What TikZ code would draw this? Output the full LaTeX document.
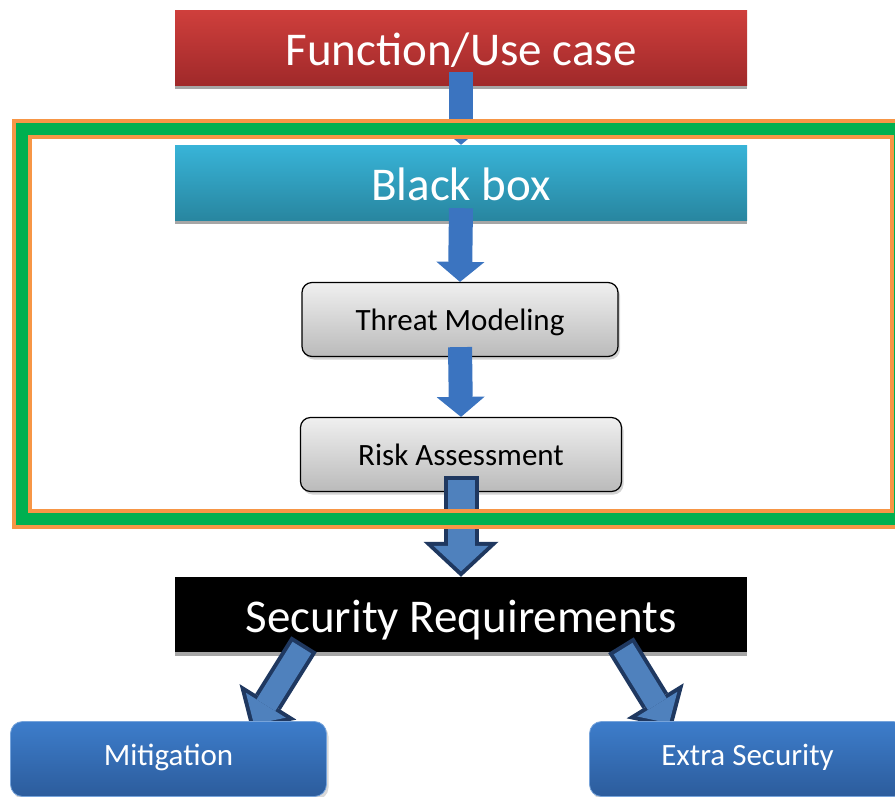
\documentclass[tikz,border=0pt]{standalone}
\usepackage{fontspec}
\setmainfont{Carlito}
\usetikzlibrary{arrows.meta, shadows}

\definecolor{ucred}{RGB}{207,63,60}
\definecolor{ucreddark}{RGB}{160,41,42}
\definecolor{bbcyan}{RGB}{56,180,216}
\definecolor{bbcyandark}{RGB}{40,134,160}
\definecolor{stepblue}{RGB}{61,125,203}
\definecolor{stepbluedark}{RGB}{44,92,156}
\definecolor{flowblue}{RGB}{59,116,192}
\definecolor{fatblue}{RGB}{79,129,189}
\definecolor{fatnavy}{RGB}{31,56,96}
\definecolor{frameorange}{RGB}{247,150,70}
\definecolor{framegreen}{RGB}{0,176,80}

\newcommand{\bannerfont}{\fontsize{47}{50}\selectfont}
\newcommand{\boxfont}{\fontsize{31}{34}\selectfont}

\tikzstyle{banner} = [rectangle, minimum width=572pt, minimum height=75pt, inner sep=2pt, text height=35pt, text depth=0pt, text=white, font=\bannerfont, drop shadow={shadow xshift=0pt, shadow yshift=-4pt, fill=black!35, opacity=1}]
\tikzstyle{greybox} = [rectangle, draw=black, line width=1.2pt, rounded corners=10pt, top color=black!6, bottom color=black!27, minimum width=316pt, minimum height=74pt, inner sep=2pt, text height=21pt, text depth=0pt, font=\boxfont, drop shadow={shadow xshift=2pt, shadow yshift=-3pt, opacity=.35}]
\tikzstyle{bluebox} = [rectangle, draw=stepblue!70!white, line width=0.8pt, rounded corners=12pt, top color=stepblue, bottom color=stepbluedark, text=white, minimum width=316pt, minimum height=75pt, inner sep=2pt, text height=12pt, text depth=0pt, font=\boxfont, drop shadow={shadow xshift=2pt, shadow yshift=-3pt, opacity=.3}]
\tikzstyle{bbframe} = [rectangle, draw=frameorange, line width=4pt, double=framegreen, double distance=12pt, minimum width=878pt, minimum height=390pt]
\tikzstyle{flow} = [line width=24pt, draw=flowblue, -{Triangle[width=48pt, length=20pt, line width=0pt]}]
\tikzstyle{fatout} = [line width=35pt, draw=fatnavy, -{Triangle[width=75pt, length=35pt, line width=0pt]}]
\tikzstyle{fatin} = [line width=27pt, draw=fatblue, -{Triangle[width=55pt, length=25.5pt, line width=0pt]}, shorten >=5.5pt, shorten <=4pt]
\tikzstyle{slantout} = [line width=30pt, draw=fatnavy, -{Triangle[width=67pt, length=32pt, line width=0pt]}]
\tikzstyle{slantin} = [line width=22pt, draw=fatblue, -{Triangle[width=47pt, length=22.4pt, line width=0pt]}, shorten >=5.6pt, shorten <=4pt]

\begin{document}
\begin{tikzpicture}[x=1pt, y=-1pt]
    \useasboundingbox (0, 0) rectangle (895, 796);

    \node[banner, top color=ucred, bottom color=ucreddark] (UseCase) at (461, 47.5) {Function/Use case};
    \node[banner, top color=bbcyan, bottom color=bbcyandark] (BlackBox) at (461, 182.5) {Black box};
    \node[greybox] (Threat) at (460, 319.5) {Threat Modeling};
    \node[greybox, minimum width=321pt] (Risk) at (461, 454.5) {Risk Assessment};
    \node[banner, fill=black] (SecReq) at (461, 614.5) {Security Requirements};

    \coordinate (MitEnd) at (251, 729);
    \coordinate (ExtraEnd) at (672, 728);

    \draw[flow] ([yshift=13pt]UseCase.south) -- (BlackBox.north);
    \draw[flow] ([yshift=12pt]BlackBox.south) -- (Threat.north);
    \draw[flow] ([yshift=10pt]Threat.south) -- (Risk.north);

    \draw[fatout] ([yshift=16pt]Risk.south) -- (SecReq.north);
    \draw[fatin] ([yshift=16pt]Risk.south) -- (SecReq.north);

    \draw[slantout] ([xshift=-157pt, yshift=8pt]SecReq.south) -- (MitEnd);
    \draw[slantin] ([xshift=-157pt, yshift=8pt]SecReq.south) -- (MitEnd);
    \draw[slantout] ([xshift=160pt, yshift=7pt]SecReq.south) -- (ExtraEnd);
    \draw[slantin] ([xshift=160pt, yshift=7pt]SecReq.south) -- (ExtraEnd);

    \node[bluebox] (Mitigation) at (168.5, 759) {Mitigation};
    \node[bluebox] (Extra) at (747.5, 759) {Extra Security};

    \node[bbframe] (Frame) at (461, 324.25) {};
\end{tikzpicture}
\end{document}
